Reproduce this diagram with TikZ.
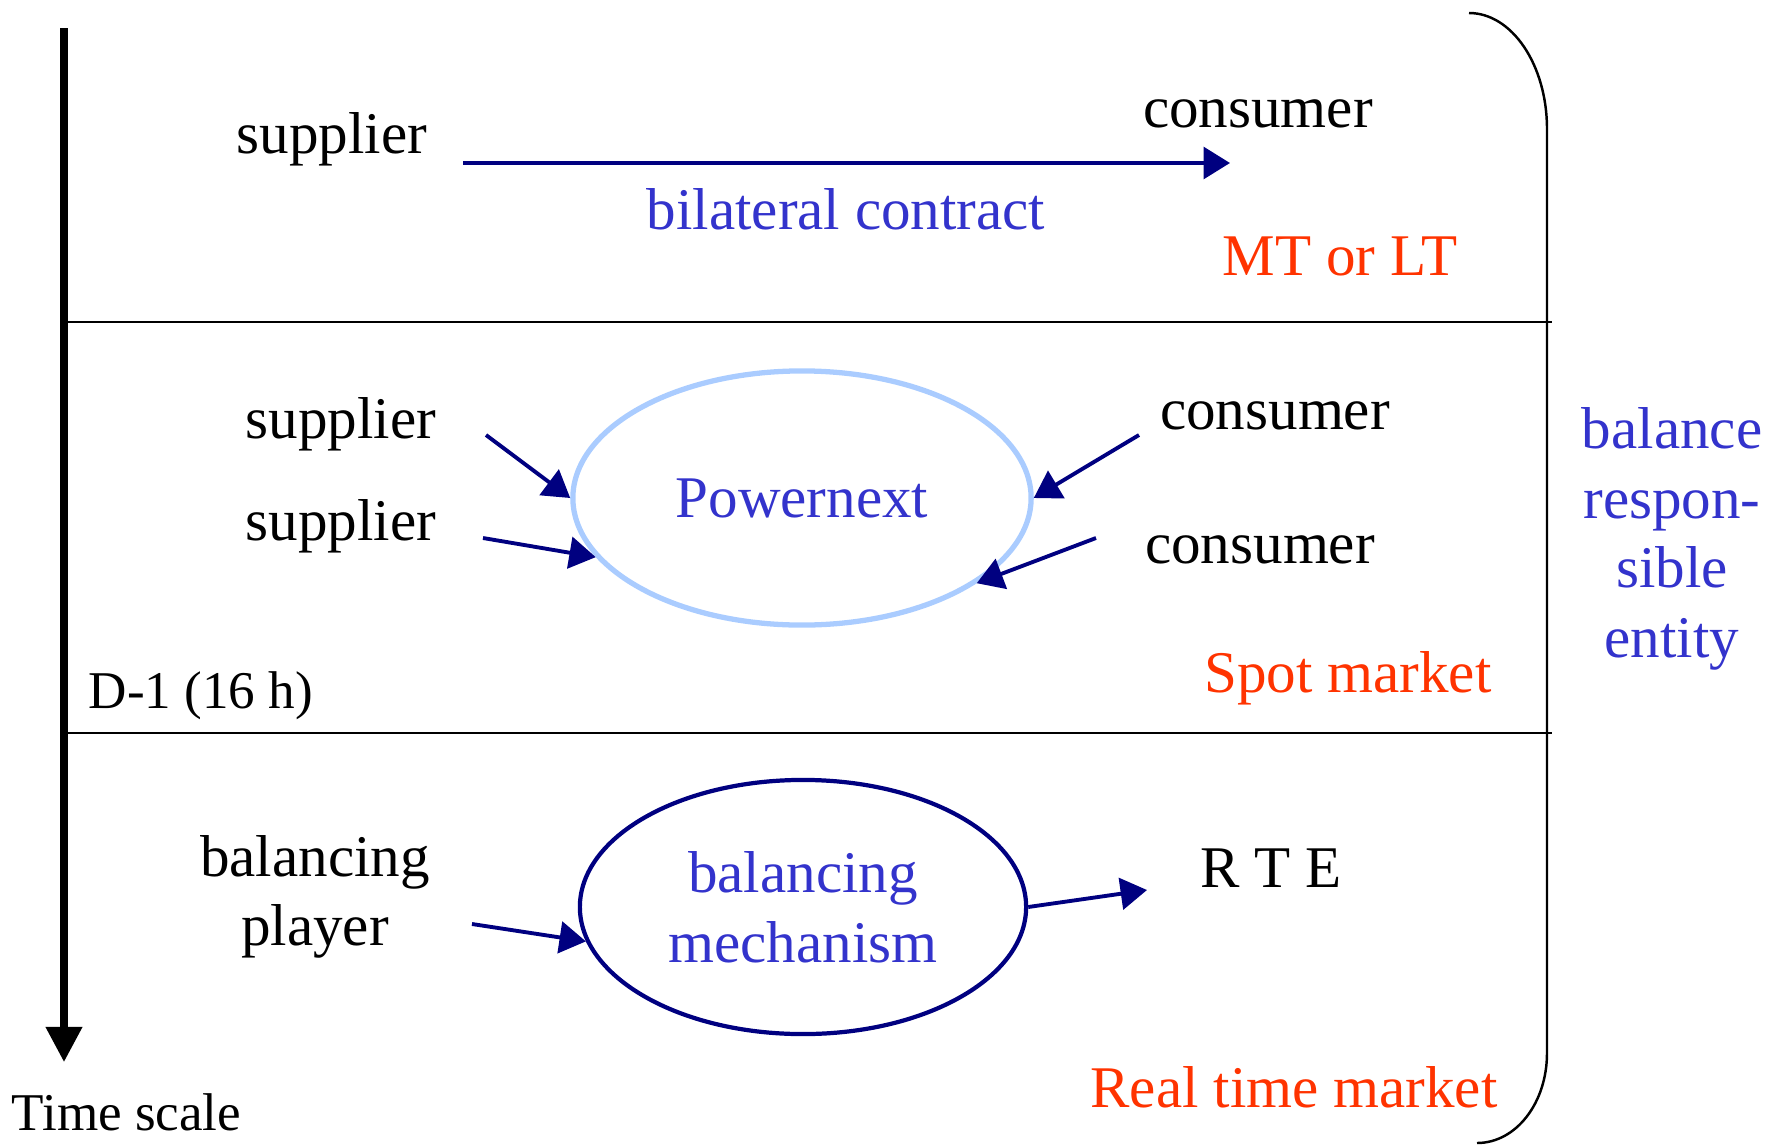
\documentclass[tikz,border=0pt]{standalone}
\usepackage{fontspec}
\setmainfont{Liberation Serif}
\usetikzlibrary{arrows.meta,shapes.geometric}
\definecolor{navy}{RGB}{0,0,128}
\definecolor{txtblue}{RGB}{51,51,204}
\definecolor{mktred}{RGB}{255,51,0}
\definecolor{paleblue}{RGB}{170,204,255}
\begin{document}
\begin{tikzpicture}[x=0.01cm, y=-0.01cm,
    lbl/.style={font=\fontsize{16.8}{19.8}\selectfont, inner sep=0pt, anchor=base, align=center},
    small/.style={font=\fontsize{15.1}{18}\selectfont, inner sep=0pt, anchor=base west},
    market/.style={lbl, text=mktred},
    place/.style={draw, ellipse, line width=1.1pt, inner sep=0pt, minimum height=2.54cm, text=txtblue, align=center,
      font=\fontsize{16.8}{19.8}\selectfont},
    flow/.style={draw=navy, line width=1.1pt, -{Triangle[length=7.5pt,width=9pt]}},
    sep/.style={line width=0.7pt}
  ]
  \useasboundingbox (0,0) rectangle (1772,1145);

  % time axis
  \coordinate (ttop) at (64,28);
  \coordinate (tbot) at (64,1062);
  \draw[line width=2pt, -{Triangle[length=10pt,width=10pt]}] (ttop) -- (tbot);
  \node[small] (tscale) at (11,1130) {Time scale};

  % sections
  \draw[sep] (68,322) -- (1552,322);
  \draw[sep] (68,733) -- (1552,733);
  \draw[sep] (1469,13) .. controls (1512,13) and (1547,65) .. (1547,129)
    -- (1547,1053) .. controls (1547,1103) and (1516,1143) .. (1477,1143);

  % MT or LT
  \node[lbl] (sup0) at (332,153) {supplier};
  \node[lbl] (con0) at (1258,127) {consumer};
  \coordinate (c0a) at (463,163);
  \coordinate (c0b) at (1230,163);
  \draw[flow] (c0a) -- (c0b);
  \node[lbl, text=txtblue] (bilat) at (846,229) {bilateral contract};
  \node[market] (mtlt) at (1340,275) {MT or LT};

  % spot market
  \node[place, draw=paleblue, line width=1.5pt, minimum width=4.58cm] (pnx) at (802,498) {Powernext};
  \node[lbl] (sup1) at (341,438) {supplier};
  \node[lbl] (sup2) at (341,540) {supplier};
  \node[lbl] (con1) at (1275,429) {consumer};
  \node[lbl] (con2) at (1260,563) {consumer};
  \coordinate (s1) at (486,435);
  \coordinate (s2) at (483,538);
  \coordinate (k1) at (1139,435);
  \coordinate (k2) at (1096,538);
  \draw[flow] (s1) -- (pnx.180);
  \draw[flow] (s2) -- (pnx.196);
  \draw[flow] (k1) -- (pnx.0);
  \draw[flow] (k2) -- (pnx.334);
  \node[small] (dayahead) at (88,708) {D-1 (16 h)};
  \node[market] (spot) at (1348,692) {Spot market};

  % real time market
  \node[place, draw=navy, line width=1.2pt, minimum width=4.46cm] (bm) at (803,907) {balancing\\mechanism};
  \node[lbl, anchor=center] (player) at (315,897) {balancing\\player};
  \node[lbl] (rte) at (1271,887) {R T E};
  \coordinate (p1) at (472,924);
  \coordinate (r1) at (1147,890);
  \draw[flow] (p1) -- (bm.189);
  \draw[flow] (bm.0) -- (r1);
  \node[market] (rtm) at (1294,1107) {Real time market};

  \node[lbl, anchor=center, text=txtblue] (bre) at (1672,539) {balance\\respon-\\sible\\entity};
\end{tikzpicture}
\end{document}
